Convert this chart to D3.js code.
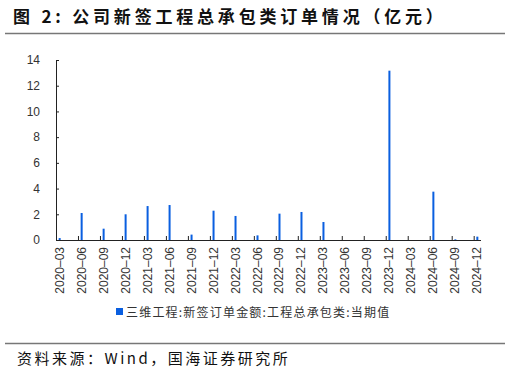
<!DOCTYPE html>
<html>
<head>
<meta charset="utf-8">
<script src="https://cdn.jsdelivr.net/npm/d3@7"></script>
<style>
  body { margin: 0; background: #fff; }
  svg { display: block; }
</style>
</head>
<body>
<script>
(function() {
    var w = 510;
    var h = 372;

    // quarter-end months that carry a value, and the value (亿元)
    var quarters = ["2020-03", "2020-06", "2020-09", "2020-12",
                    "2021-03", "2021-06", "2021-09", "2021-12",
                    "2022-03", "2022-06", "2022-09", "2022-12",
                    "2023-03", "2023-06", "2023-09", "2023-12",
                    "2024-03", "2024-06", "2024-09", "2024-12"];
    var values = [0.15, 2.1, 0.88, 2.0,
                  2.64, 2.72, 0.42, 2.28,
                  1.87, 0.36, 2.05, 2.18,
                  1.4, 0, 0, 13.17,
                  0, 3.76, 0.05, 0.26];
    var yTicks = [0, 2, 4, 6, 8, 10, 12, 14];
    var seriesName = "三维工程:新签订单金额:工程总承包类:当期值";

    var fmt = d3.timeFormat("%Y-%m");
    var parse = d3.timeParse("%Y-%m");
    // monthly category axis
    var months = d3.timeMonth.range(parse("2020-03"), d3.timeMonth.offset(parse("2024-12"), 1)).map(fmt);

    var svg = d3.select("body").append("svg")
        .attr("width", w)
        .attr("height", h);

    var cjk = "'Noto Sans CJK SC', 'Noto Sans', sans-serif";
    var latin = "Arial, 'Liberation Sans', sans-serif";

    // title
    svg.append("text")
        .attr("x", 13)
        .attr("y", 23)
        .attr("font-family", cjk)
        .attr("font-size", 17)
        .attr("font-weight", "bold")
        .attr("letter-spacing", 3.8)
        .attr("fill", "#111")
        .text("图 2:  公司新签工程总承包类订单情况（亿元）");

    svg.append("line")
        .attr("x1", 5).attr("x2", 505)
        .attr("y1", 33.5).attr("y2", 33.5)
        .attr("stroke", "#777").attr("stroke-width", 1.5);

    var x = d3.scaleBand()
        .domain(months)
        .range([56, 481]);

    var y = d3.scaleLinear()
        .domain([0, 14])
        .range([240, 60]);

    // y axis
    var yAxis = svg.append("g")
        .attr("transform", "translate(56,0)")
        .call(d3.axisLeft(y).tickValues(yTicks).tickSize(-3).tickPadding(16));
    yAxis.select(".domain").attr("stroke", "#222");
    yAxis.selectAll(".tick line").attr("stroke", "#222");
    yAxis.selectAll("text")
        .attr("font-family", latin)
        .attr("font-size", 12)
        .attr("fill", "#333");

    // bars
    svg.selectAll("rect.bar")
        .data(quarters)
        .enter()
        .append("rect")
        .attr("class", "bar")
        .attr("x", function(d) { return x(d) + x.bandwidth() / 2 - 1; })
        .attr("width", 2)
        .attr("y", function(d, i) { return y(values[i]); })
        .attr("height", function(d, i) { return y(0) - y(values[i]); })
        .attr("fill", "#0a5fe0");

    // x axis: ticks at left edge of each quarter-end month, labels centred
    var xAxis = svg.append("g")
        .attr("transform", "translate(0,240)");
    xAxis.append("line")
        .attr("x1", 56).attr("x2", 481)
        .attr("y1", 0.5).attr("y2", 0.5)
        .attr("stroke", "#222");
    xAxis.selectAll("line.tick")
        .data(quarters)
        .enter()
        .append("line")
        .attr("class", "tick")
        .attr("x1", function(d) { return x(d) + 0.5; })
        .attr("x2", function(d) { return x(d) + 0.5; })
        .attr("y1", -4).attr("y2", 0)
        .attr("stroke", "#222");
    xAxis.selectAll("text")
        .data(quarters)
        .enter()
        .append("text")
        .attr("transform", function(d) {
            return "translate(" + (x(d) + x.bandwidth() / 2 + 4) + ",7) rotate(-90)";
        })
        .attr("text-anchor", "end")
        .attr("font-family", latin)
        .attr("font-size", 12)
        .attr("fill", "#333")
        .text(function(d) { return d.replace("-", "–"); });

    // legend
    var lg = svg.append("g").attr("transform", "translate(116,312)");
    lg.append("rect")
        .attr("x", 0).attr("y", -4)
        .attr("width", 7).attr("height", 7)
        .attr("fill", "#0a5fe0");
    lg.append("text")
        .attr("x", 10).attr("y", 4.5)
        .attr("font-family", cjk)
        .attr("font-size", 12)
        .attr("letter-spacing", 1.2)
        .attr("fill", "#333")
        .text(seriesName);

    // footer
    svg.append("line")
        .attr("x1", 5).attr("x2", 505)
        .attr("y1", 343.5).attr("y2", 343.5)
        .attr("stroke", "#777").attr("stroke-width", 1.5);
    svg.append("text")
        .attr("x", 17)
        .attr("y", 364)
        .attr("font-family", cjk)
        .attr("font-size", 15)
        .attr("letter-spacing", 2.5)
        .attr("fill", "#111")
        .text("资料来源：Wind，国海证券研究所");
})();
</script>
</body>
</html>
